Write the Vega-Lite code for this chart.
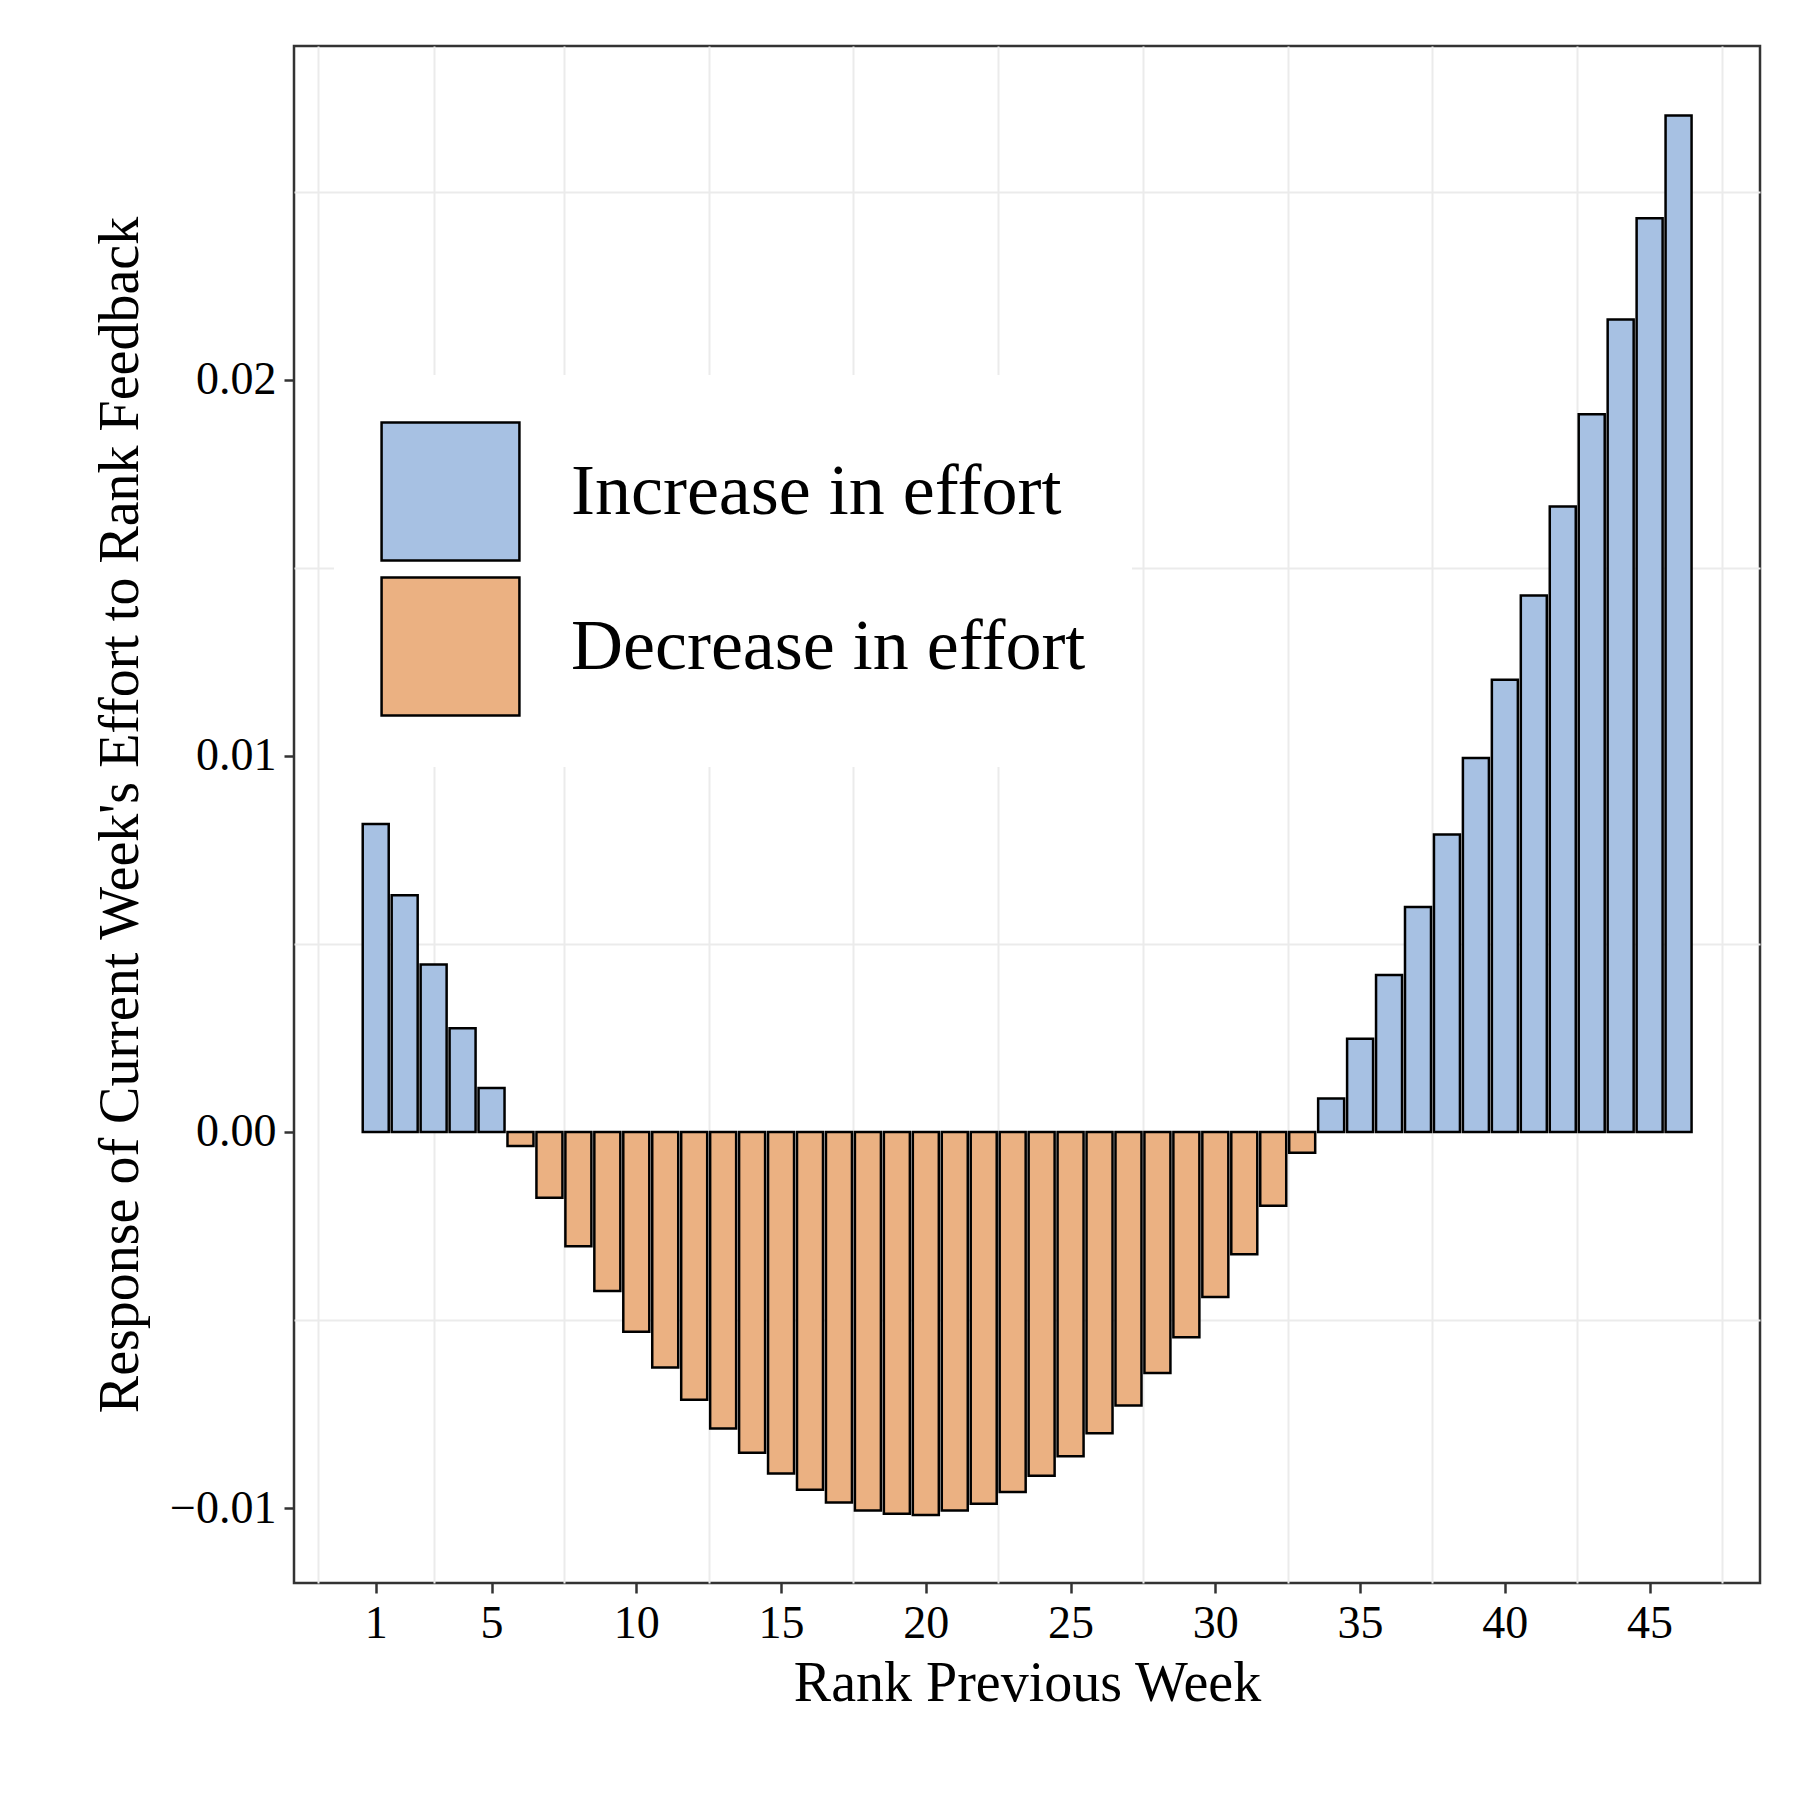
{
"$schema":"https://vega.github.io/schema/vega-lite/v6.json",
"width":1466,"height":1537,
"autosize":{"type":"none"},
"padding":{"left":294,"top":46,"right":40,"bottom":217},
"background":"white",
"config":{"font":"Liberation Serif","view":{"stroke":"#333333","strokeWidth":2.5},
"axis":{"labelFont":"Liberation Serif","titleFont":"Liberation Serif","labelColor":"black","titleColor":"black","titleFontWeight":"normal","gridColor":"#ebebeb","gridWidth":4,"domain":false,"tickColor":"#333","tickWidth":2.5,"tickSize":10,"labelFontSize":46,"titleFontSize":56}},
"data":{"values":[
{"rank":1,"v":0.00819},{"rank":2,"v":0.00629},{"rank":3,"v":0.00445},{"rank":4,"v":0.00276},{"rank":5,"v":0.00117},
{"rank":6,"v":-0.00037},{"rank":7,"v":-0.00175},{"rank":8,"v":-0.00304},{"rank":9,"v":-0.00423},{"rank":10,"v":-0.00531},
{"rank":11,"v":-0.00626},{"rank":12,"v":-0.00712},{"rank":13,"v":-0.00788},{"rank":14,"v":-0.00853},{"rank":15,"v":-0.00908},
{"rank":16,"v":-0.00951},{"rank":17,"v":-0.00985},{"rank":18,"v":-0.01006},{"rank":19,"v":-0.01015},{"rank":20,"v":-0.01018},
{"rank":21,"v":-0.01006},{"rank":22,"v":-0.00988},{"rank":23,"v":-0.00957},{"rank":24,"v":-0.00914},{"rank":25,"v":-0.00862},
{"rank":26,"v":-0.00801},{"rank":27,"v":-0.00727},{"rank":28,"v":-0.00641},{"rank":29,"v":-0.00546},{"rank":30,"v":-0.00439},
{"rank":31,"v":-0.00325},{"rank":32,"v":-0.00196},{"rank":33,"v":-0.00055},{"rank":34,"v":0.00089},{"rank":35,"v":0.00248},
{"rank":36,"v":0.00417},{"rank":37,"v":0.00598},{"rank":38,"v":0.00791},{"rank":39,"v":0.00994},{"rank":40,"v":0.01202},
{"rank":41,"v":0.01426},{"rank":42,"v":0.01663},{"rank":43,"v":0.01908},{"rank":44,"v":0.02160},{"rank":45,"v":0.02429},{"rank":46,"v":0.02702}
]},
"transform":[{"calculate":"datum.v>=0?'Increase in effort':'Decrease in effort'","as":"dir"}],
"resolve":{"axis":{"x":"independent","y":"independent"}},
"layer":[
{"mark":{"type":"rule","opacity":0},"encoding":{
"x":{"field":"rank","type":"quantitative","scale":{"domain":[-1.65,48.64],"nice":false,"zero":false},"axis":{"orient":"bottom","values":[-1,3,7.5,12.5,17.5,22.5,27.5,32.5,37.5,42.5,47.5],"labels":false,"ticks":false,"title":null,"gridWidth":2}},
"y":{"field":"v","type":"quantitative","scale":{"domain":[-0.01199,0.02887],"nice":false},"axis":{"orient":"left","values":[-0.015,-0.005,0.005,0.015,0.025],"labels":false,"ticks":false,"title":null,"gridWidth":2}}}},
{"mark":{"type":"bar","size":26,"stroke":"black","strokeWidth":2.5,"opacity":1},"encoding":{
"x":{"field":"rank","type":"quantitative","scale":{"domain":[-1.65,48.64],"nice":false,"zero":false},"axis":{"orient":"bottom","values":[1,5,10,15,20,25,30,35,40,45],"title":"Rank Previous Week","labelPadding":8,"titlePadding":10}},
"y":{"field":"v","type":"quantitative","scale":{"domain":[-0.01199,0.02887],"nice":false},"axis":{"orient":"left","values":[-0.01,0,0.01,0.02],"format":".2f","title":"Response of Current Week's Effort to Rank Feedback","labelPadding":8,"titlePadding":20}},
"color":{"field":"dir","type":"nominal","scale":{"domain":["Increase in effort","Decrease in effort"],"range":["#a7c1e3","#ebb182"]},
"legend":{"title":null,"orient":"none","legendX":40,"legendY":329,"fillColor":"white","padding":46,"symbolType":"square","symbolSize":19000,"symbolStrokeColor":"black","symbolStrokeWidth":2.5,"symbolOpacity":1,"labelFontSize":72,"labelFont":"Liberation Serif","labelColor":"black","labelOffset":50,"rowPadding":6,"labelLimit":800}}}}
]
}
